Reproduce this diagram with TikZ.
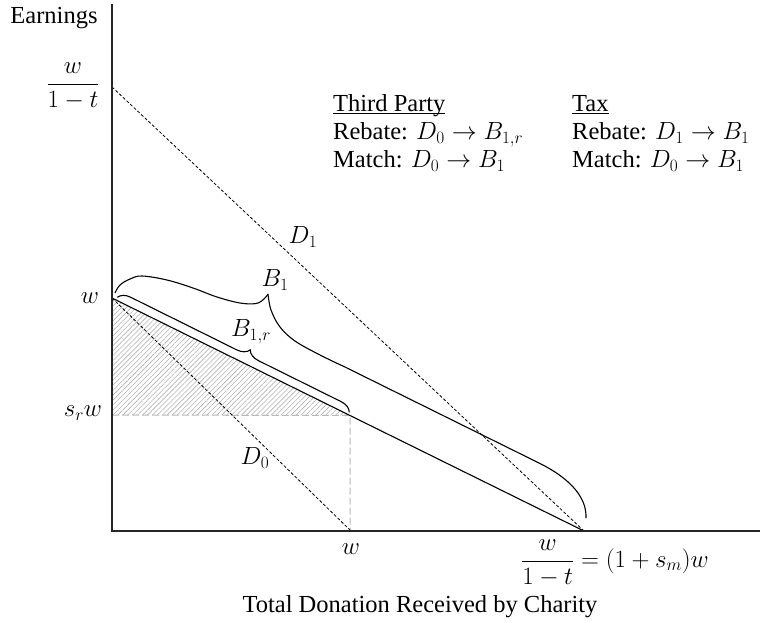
\documentclass[tikz,border=0pt]{standalone}
\usepackage{fontspec}
\setmainfont{Liberation Serif}
\usetikzlibrary{decorations.pathreplacing,patterns.meta}
\begin{document}
\begin{tikzpicture}[x=1pt,y=-1pt,
  every node/.style={font=\fontsize{24.5}{29}\selectfont, inner sep=0pt},
  axis/.style={line width=1.3pt, black!85},
  budget/.style={line width=1.1pt},
  demand/.style={line width=0.8pt, dash pattern=on 3pt off 2pt},
  guide/.style={line width=1pt, gray!55, dash pattern=on 7pt off 3pt},
  curly/.style={line width=1.1pt}]
\useasboundingbox (0,0) rectangle (765,622);
% key points
\coordinate (O) at (112,531);
\coordinate (ytop) at (112,4);
\coordinate (xend) at (760,531);
\coordinate (W) at (112,298);
\coordinate (Wt) at (112,87);
\coordinate (Xm) at (584,531);
\coordinate (Xw) at (351,531);
\coordinate (Sr) at (112,415);
\coordinate (Srend) at (350,415.5);
\coordinate (BrS) at (117.3,297.3);
\coordinate (BrE) at (349.3,412.4);
% hatched region
\fill[pattern={Lines[angle=45,distance=3.5pt,line width=0.6pt]}, pattern color=gray!60]
  (W) -- (Srend) -- (Sr) -- cycle;
\draw[guide] (Sr) -- (Srend) -- (Srend |- O);
% lines
\draw[demand] (Wt) -- (Xm);
\draw[demand] (W) -- (Xw);
\draw[budget] (W) -- (Xm);
\draw[axis] (ytop) -- (O) -- (xend);
% braces
\draw[curly, decorate, decoration={brace, amplitude=12pt, aspect=0.55}] (BrS) -- (BrE);
\draw[curly] plot[smooth, tension=0.6] coordinates {(115,293) (120,285) (130,279) (142,276) (167,280) (193,288) (217,297) (240,303) (256,303.5) (264,299) (268,294)};
\draw[curly] plot[smooth, tension=0.6] coordinates {(268,294) (271,310) (280,327) (295,341) (320,355) (345,367)}
  -- (540,463.5) .. controls (566,476.5) and (587,495) .. (586,518);
% labels
\node[anchor=base] (lEarn) at (54,23) {Earnings};
\node[anchor=base] (lWt) at (73,90) {$\displaystyle\frac{w}{1-t}$};
\node (lW) at (90,298) {$w$};
\node (lSr) at (83,413) {$s_r w$};
\node (lXw) at (351,549) {$w$};
\node[anchor=base west] (lXm) at (521,567) {$\displaystyle\frac{w}{1-t} = (1+s_m)w$};
\node[anchor=base] (lTot) at (420,612) {Total Donation Received by Charity};
\node (lD1) at (303,237) {$D_1$};
\node (lD0) at (255,458) {$D_0$};
\node (lB1) at (275,280) {$B_1$};
\node (lB1r) at (251,332) {$B_{1,r}$};
% legend
\node[anchor=base west] (tp) at (333,111.5) {\underline{\smash{Third Party}}};
\node[anchor=base west] (tp1) at (333,139.5) {Rebate: $D_0\to B_{1,r}$};
\node[anchor=base west] (tp2) at (333,167.5) {Match: $D_0\to B_1$};
\node[anchor=base west] (tx) at (572,111.5) {\underline{\smash{Tax}}};
\node[anchor=base west] (tx1) at (572,139.5) {Rebate: $D_1\to B_1$};
\node[anchor=base west] (tx2) at (572,167.5) {Match: $D_0\to B_1$};
\end{tikzpicture}
\end{document}
